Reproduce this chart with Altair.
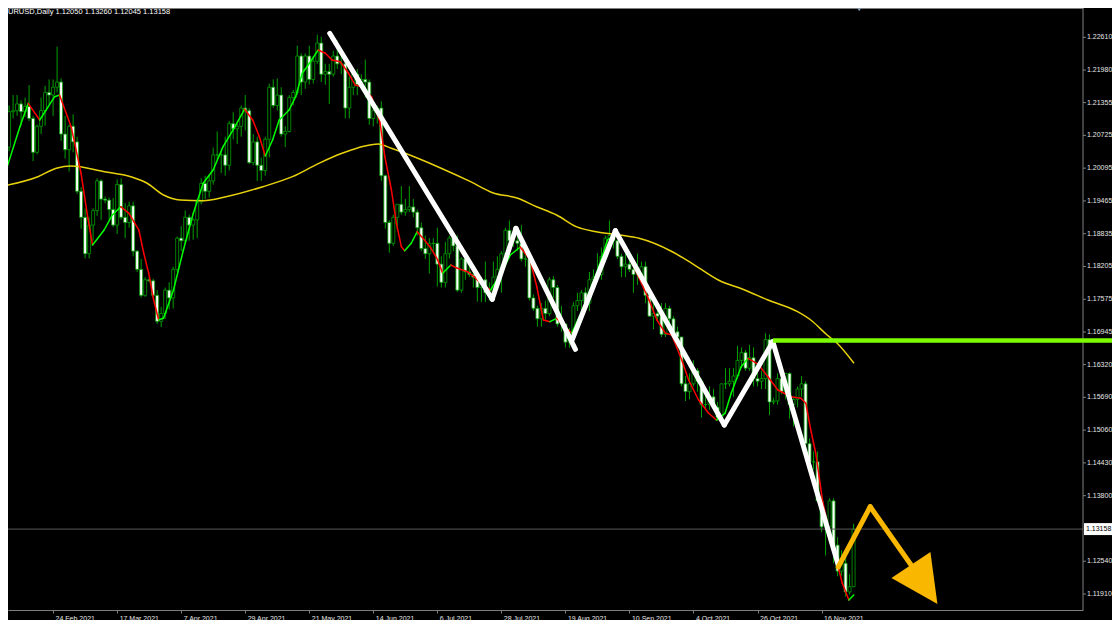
import altair as alt
import pandas as pd
import numpy as np

# ---------------- candles (bar index 0..212), EURUSD daily ----------------
opens = [1.2045,1.2050,1.2118,1.2120,1.2133,1.2118,1.2128,1.2105,1.2040,1.2090,
         1.2120,1.2155,1.2150,1.2165,1.2175,1.2075,1.2045,1.2090,1.2060,1.1965,
         1.1915,1.1845,1.1900,1.1928,1.1985,1.1950,1.1948,1.1930,1.1900,1.1978,
         1.1915,1.1905,1.1937,1.1850,1.1815,1.1765,1.1795,1.1793,1.1765,1.1715,
         1.1730,1.1775,1.1760,1.1815,1.1875,1.1870,1.1915,1.1900,1.1910,1.1945,
         1.1980,1.1965,1.1985,1.2035,1.2035,1.2035,1.2015,1.2095,1.2085,1.2090,
         1.2125,1.2120,1.2020,1.2060,1.2015,1.2005,1.2065,1.2165,1.2130,1.2150,
         1.2075,1.2080,1.2145,1.2155,1.2225,1.2175,1.2225,1.2180,1.2215,1.2250,
         1.2190,1.2195,1.2190,1.2225,1.2210,1.2210,1.2125,1.2165,1.2190,1.2170,
         1.2180,1.2175,1.2105,1.2120,1.2125,1.1995,1.1905,1.1865,1.1915,1.1940,
         1.1925,1.1930,1.1935,1.1925,1.1895,1.1855,1.1845,1.1865,1.1865,1.1825,
         1.1790,1.1845,1.1875,1.1860,1.1775,1.1835,1.1810,1.1805,1.1800,1.1780,
         1.1795,1.1770,1.1770,1.1800,1.1815,1.1845,1.1890,1.1870,1.1870,1.1865,
         1.1835,1.1835,1.1760,1.1740,1.1720,1.1740,1.1730,1.1795,1.1780,1.1710,
         1.1710,1.1675,1.1695,1.1745,1.1755,1.1770,1.1750,1.1795,1.1800,1.1805,
         1.1840,1.1875,1.1880,1.1870,1.1840,1.1820,1.1825,1.1815,1.1805,1.1805,
         1.1820,1.1765,1.1725,1.1730,1.1725,1.1690,1.1740,1.1720,1.1695,1.1685,
         1.1595,1.1580,1.1595,1.1620,1.1600,1.1555,1.1555,1.1570,1.1550,1.1530,
         1.1595,1.1595,1.1600,1.1610,1.1640,1.1655,1.1625,1.1645,1.1605,1.1600,
         1.1605,1.1680,1.1560,1.1562,1.1605,1.1580,1.1615,1.1555,1.1565,1.1585,
         1.1595,1.1480,1.1445,1.1445,1.1370,1.1320,1.1320,1.1370,1.1285,1.1235,
         1.1250,1.1195,1.12050]
highs = [1.2061,1.2130,1.2150,1.2150,1.2140,1.2145,1.2169,1.2110,1.2093,1.2145,
         1.2168,1.2180,1.2180,1.2243,1.2182,1.2110,1.2093,1.2113,1.2070,1.1973,
         1.1932,1.1915,1.1932,1.1990,1.1988,1.1955,1.1953,1.1952,1.1988,1.1990,
         1.1942,1.1945,1.1945,1.1852,1.1835,1.1800,1.1800,1.1797,1.1775,1.1743,
         1.1780,1.1790,1.1820,1.1878,1.1898,1.1928,1.1920,1.1913,1.1950,1.1990,
         1.1995,1.1995,1.2049,1.2080,1.2048,1.2070,1.2100,1.2117,1.2095,1.2130,
         1.2150,1.2125,1.2075,1.2070,1.2030,1.2070,1.2172,1.2180,1.2182,1.2165,
         1.2090,1.2150,1.2160,1.2245,1.2230,1.2230,1.2245,1.2225,1.2266,1.2262,
         1.2210,1.2210,1.2235,1.2255,1.2228,1.2215,1.2185,1.2195,1.2200,1.2190,
         1.2218,1.2180,1.2130,1.2130,1.2138,1.1997,1.1910,1.1920,1.1940,1.1975,
         1.1950,1.1975,1.1950,1.1930,1.1905,1.1880,1.1875,1.1875,1.1895,1.1840,
         1.1868,1.1880,1.1880,1.1880,1.1838,1.1850,1.1825,1.1820,1.1805,1.1800,
         1.1830,1.1790,1.1830,1.1840,1.1850,1.1895,1.1909,1.1895,1.1880,1.1900,
         1.1850,1.1848,1.1767,1.1745,1.1750,1.1755,1.1800,1.1802,1.1785,1.1745,
         1.1710,1.1702,1.1752,1.1770,1.1775,1.1780,1.1810,1.1815,1.1846,1.1857,
         1.1880,1.1909,1.1885,1.1872,1.1845,1.1845,1.1845,1.1820,1.1845,1.1830,
         1.1830,1.1775,1.1750,1.1750,1.1750,1.1750,1.1745,1.1725,1.1705,1.1685,
         1.1610,1.1615,1.1640,1.1625,1.1605,1.1575,1.1590,1.1585,1.1560,1.1595,
         1.1625,1.1625,1.1625,1.1668,1.1665,1.1660,1.1670,1.1665,1.1625,1.1620,
         1.1692,1.1690,1.1568,1.1615,1.1615,1.1615,1.1617,1.1570,1.1590,1.1610,
         1.1600,1.1490,1.1465,1.1465,1.1385,1.1330,1.1375,1.1375,1.1300,1.1275,
         1.1265,1.1229,1.13260]
lows = [1.2012,1.2042,1.2105,1.2110,1.2091,1.2108,1.2100,1.2023,1.2036,1.2075,
        1.2091,1.2132,1.2110,1.2155,1.2062,1.2028,1.2003,1.2040,1.1960,1.1893,
        1.1836,1.1836,1.1870,1.1918,1.1910,1.1942,1.1910,1.1896,1.1883,1.1910,
        1.1875,1.1895,1.1840,1.1810,1.1761,1.1762,1.1790,1.1760,1.1710,1.1704,
        1.1720,1.1738,1.1740,1.1810,1.1850,1.1865,1.1870,1.1872,1.1875,1.1940,
        1.1950,1.1953,1.1978,1.2025,1.2000,1.1995,1.2005,1.2065,1.2056,1.2070,
        1.2082,1.2018,1.2015,1.1985,1.1985,1.1995,1.2030,1.2125,1.2120,1.2070,
        1.2050,1.2078,1.2130,1.2150,1.2150,1.2162,1.2170,1.2172,1.2210,1.2175,
        1.2170,1.2133,1.2185,1.2200,1.2190,1.2105,1.2105,1.2150,1.2150,1.2165,
        1.2145,1.2093,1.2090,1.2095,1.1985,1.1893,1.1847,1.1860,1.1890,1.1920,
        1.1918,1.1925,1.1915,1.1880,1.1850,1.1835,1.1807,1.1850,1.1782,1.1780,
        1.1780,1.1836,1.1850,1.1772,1.1770,1.1795,1.1800,1.1780,1.1753,1.1752,
        1.1752,1.1755,1.1760,1.1780,1.1770,1.1840,1.1865,1.1858,1.1850,1.1830,
        1.1820,1.1755,1.1735,1.1705,1.1705,1.1718,1.1725,1.1760,1.1705,1.1695,
        1.1665,1.1664,1.1688,1.1735,1.1720,1.1735,1.1735,1.1785,1.1795,1.1795,
        1.1837,1.1855,1.1855,1.1835,1.1800,1.1800,1.1810,1.1770,1.1785,1.1785,
        1.1750,1.1725,1.1700,1.1715,1.1685,1.1685,1.1700,1.1680,1.1665,1.1590,
        1.1562,1.1565,1.1590,1.1580,1.1530,1.1545,1.1545,1.1545,1.1524,1.1525,
        1.1585,1.1590,1.1570,1.1605,1.1625,1.1620,1.1620,1.1590,1.1590,1.1585,
        1.1585,1.1535,1.1555,1.1555,1.1575,1.1565,1.1528,1.1513,1.1550,1.1570,
        1.1465,1.1432,1.1430,1.1370,1.1310,1.1265,1.1300,1.1250,1.1225,1.1226,
        1.1186,1.1190,1.12045]
closes = [1.2050,1.2118,1.2120,1.2133,1.2118,1.2128,1.2105,1.2040,1.2090,1.2120,
          1.2155,1.2150,1.2165,1.2175,1.2075,1.2045,1.2090,1.2060,1.1965,1.1915,
          1.1845,1.1900,1.1928,1.1985,1.1950,1.1948,1.1930,1.1900,1.1978,1.1915,
          1.1905,1.1937,1.1850,1.1815,1.1765,1.1795,1.1793,1.1765,1.1715,1.1730,
          1.1775,1.1760,1.1815,1.1875,1.1870,1.1915,1.1900,1.1910,1.1945,1.1980,
          1.1965,1.1985,1.2035,1.2035,1.2035,1.2015,1.2095,1.2085,1.2090,1.2125,
          1.2120,1.2020,1.2060,1.2015,1.2005,1.2065,1.2165,1.2130,1.2150,1.2075,
          1.2080,1.2145,1.2155,1.2225,1.2175,1.2225,1.2180,1.2215,1.2250,1.2190,
          1.2195,1.2190,1.2225,1.2210,1.2210,1.2125,1.2165,1.2190,1.2170,1.2180,
          1.2175,1.2105,1.2120,1.2125,1.1995,1.1905,1.1865,1.1915,1.1940,1.1925,
          1.1930,1.1935,1.1925,1.1895,1.1855,1.1845,1.1865,1.1865,1.1825,1.1790,
          1.1845,1.1875,1.1860,1.1775,1.1835,1.1810,1.1805,1.1800,1.1780,1.1795,
          1.1770,1.1770,1.1800,1.1815,1.1845,1.1890,1.1870,1.1870,1.1865,1.1835,
          1.1835,1.1760,1.1740,1.1720,1.1740,1.1730,1.1795,1.1780,1.1710,1.1710,
          1.1675,1.1695,1.1745,1.1755,1.1770,1.1750,1.1795,1.1800,1.1805,1.1840,
          1.1875,1.1880,1.1870,1.1840,1.1820,1.1825,1.1815,1.1805,1.1805,1.1820,
          1.1765,1.1725,1.1730,1.1725,1.1690,1.1740,1.1720,1.1695,1.1685,1.1595,
          1.1580,1.1595,1.1620,1.1600,1.1555,1.1555,1.1570,1.1550,1.1530,1.1595,
          1.1595,1.1600,1.1610,1.1640,1.1655,1.1625,1.1645,1.1605,1.1600,1.1605,
          1.1680,1.1560,1.1562,1.1605,1.1580,1.1615,1.1555,1.1565,1.1585,1.1595,
          1.1480,1.1445,1.1445,1.1370,1.1320,1.1320,1.1370,1.1285,1.1235,1.1250,
          1.1195,1.1205,1.13158]

# ---------------- indicators ----------------
slow_ma_bar = [0, 8.2, 12.8, 16.5, 24.8, 31.4, 35.4, 39.6, 43.7, 49.5, 55.2, 64.4, 71.8,
               78.4, 84.2, 89.9, 93.2, 96.5, 99.8, 108.1, 116.3, 122.0, 127.9, 132.8,
               137.8, 142.7, 147.7, 153.5, 158.4, 166.7, 171.6, 178.2, 184.8, 190.6,
               198.0, 201.3, 205.4, 207.9, 212.1]
slow_ma_val = [1.19758, 1.19931, 1.20092, 1.20136, 1.20027, 1.19931, 1.19810, 1.19579,
               1.19483, 1.19470, 1.19546, 1.19739, 1.19931, 1.20188, 1.20381, 1.20521,
               1.20559, 1.20477, 1.20386, 1.20123, 1.19835, 1.19617, 1.19521, 1.19354,
               1.19195, 1.18970, 1.18874, 1.18810, 1.18747, 1.18489, 1.18266, 1.17945,
               1.17753, 1.17561, 1.17336, 1.17176, 1.16888, 1.16729, 1.16344]

fast_ma_bar = [0, 3.71, 5.77, 8.66, 12.38, 13.61, 16.51, 18.99, 20.62, 21.86,
               24.75, 26.81, 28.89, 30.94, 32.18, 33.42, 34.65, 35.89, 37.13, 38.37,
               39.60, 42.08, 44.55, 47.03, 49.50, 51.98, 54.46, 56.93, 59.83, 61.88,
               63.54, 65.02, 66.83, 68.49, 70.96, 72.60, 74.26, 76.31, 78.22, 80.02,
               81.68, 83.74, 85.82, 87.45, 89.11, 91.58, 93.64, 94.88, 96.53, 97.77,
               99.01, 99.83, 101.49, 102.97, 104.78, 106.44, 108.09, 109.33, 111.39, 113.04,
               115.52, 117.15, 119.31, 121.29, 123.76, 126.24, 128.71, 131.19, 132.85, 134.48,
               136.14, 137.80, 139.36, 141.58, 144.80, 148.51, 150.50, 152.97, 156.68, 160.89,
               162.87, 165.02, 166.58, 169.06, 170.79, 173.27, 175.74, 177.72, 179.88, 181.44,
               183.91, 185.64, 188.12, 190.59, 193.07, 196.36, 198.84, 200.07, 201.31, 202.55,
               203.39, 204.21, 205.45, 207.92, 209.16, 210.82, 212.05]
fast_ma_val = [1.19996, 1.20892, 1.21341, 1.21020, 1.21468, 1.21501, 1.20892, 1.19996, 1.19162, 1.18618,
               1.18906, 1.19195, 1.19354, 1.19227, 1.19066, 1.18906, 1.18459, 1.18074, 1.17561, 1.17177,
               1.17215, 1.17753, 1.18522, 1.19227, 1.19804, 1.20060, 1.20507, 1.20828, 1.21226, 1.21020,
               1.20700, 1.20329, 1.20636, 1.21020, 1.21213, 1.21468, 1.21918, 1.22141, 1.22366, 1.22303,
               1.22174, 1.22141, 1.21918, 1.21693, 1.21661, 1.21468, 1.20988, 1.20315, 1.19675, 1.19035,
               1.18585, 1.18508, 1.18651, 1.18874, 1.18714, 1.18555, 1.18330, 1.18074, 1.18234, 1.18170,
               1.18105, 1.18009, 1.17849, 1.17753, 1.18041, 1.18426, 1.18580, 1.18330, 1.17817, 1.17177,
               1.17144, 1.17209, 1.17080, 1.16927, 1.17465, 1.18234, 1.18714, 1.18849, 1.18272, 1.17561,
               1.17177, 1.16921, 1.16888, 1.16408, 1.16023, 1.15639, 1.15389, 1.15255, 1.15383, 1.15773,
               1.16279, 1.16440, 1.16330, 1.16087, 1.15831, 1.15702, 1.15672, 1.15576, 1.15062, 1.14615,
               1.14165, 1.13717, 1.13275, 1.12500, 1.12122, 1.11795, 1.11891]

# ---------------- drawn objects ----------------
zig_bar1 = [81.11, 121.71, 127.65, 141.66, 152.48, 179.70, 191.83]
zig_val1 = [1.22687, 1.17574, 1.18939, 1.16792, 1.18893, 1.15158, 1.16759]
zig_bar2 = [121.71, 127.65, 142.50, 152.48, 179.70, 191.83, 208.17]
zig_val2 = [1.17574, 1.18939, 1.16613, 1.18893, 1.15158, 1.16759, 1.12468]

proj_bar1 = [208.17, 216.16]
proj_val1 = [1.12429, 1.13588]
proj_bar2 = [216.16, 226.90]
proj_val2 = [1.13588, 1.12410]
arrow_bar = [227.2]
arrow_val = [1.12218]

level_bar = [191.83]
level_bar_end = [277.2]
level_val = [1.16783]

current_price = 1.13158
header = "URUSD,Daily  1.12050 1.13260 1.12045 1.13158"

price_ticks = [1.22610, 1.21980, 1.21355, 1.20725, 1.20095, 1.19465, 1.18835, 1.18205,
               1.17575, 1.16945, 1.16320, 1.15690, 1.15060, 1.14430, 1.13800, 1.12540, 1.11910]
date_tick_bars = [-4, 12, 28, 44, 60, 76, 92, 108, 124, 140, 156, 172, 188, 204]
date_tick_labels = ["2 Feb 2021", "24 Feb 2021", "17 Mar 2021", "7 Apr 2021", "29 Apr 2021",
                    "21 May 2021", "14 Jun 2021", "6 Jul 2021", "28 Jul 2021", "19 Aug 2021",
                    "10 Sep 2021", "4 Oct 2021", "26 Oct 2021", "16 Nov 2021"]

# ---------------- frames ----------------
candles = pd.DataFrame({"bar": list(range(len(closes))), "open": opens, "high": highs,
                        "low": lows, "close": closes})
candles["kind"] = np.where(candles["close"] >= candles["open"], "bull", "bear")

slow = pd.DataFrame({"bar": slow_ma_bar, "val": slow_ma_val})
fast = pd.DataFrame({"bar": fast_ma_bar[:-1], "bar2": fast_ma_bar[1:],
                     "val": fast_ma_val[:-1], "val2": fast_ma_val[1:]})
fast["trend"] = np.where(fast["val2"] < fast["val"], "down", "up")
zig = pd.DataFrame({"bar": zig_bar1, "val": zig_val1, "bar2": zig_bar2, "val2": zig_val2})
proj = pd.DataFrame({"bar": proj_bar1, "val": proj_val1, "bar2": proj_bar2, "val2": proj_val2})
arrow = pd.DataFrame({"bar": arrow_bar, "val": arrow_val})
level = pd.DataFrame({"bar": level_bar, "bar2": level_bar_end, "val": level_val})
cur = pd.DataFrame({"val": [current_price], "txt": [f"{current_price:.5f}"],
                    "lo": [current_price - 0.00115], "hi": [current_price + 0.00115]})
ticks_df = pd.DataFrame({"val": price_ticks, "txt": [f"{v:.5f}" for v in price_ticks]})
head = pd.DataFrame({"t": [header]})
shift_marker = pd.DataFrame({"bar": [213.4]})
frame_df = pd.DataFrame({"k": [0]})

PLOT_W, PLOT_H = 1075, 602
XDOM = [1.98, 268.07]
YDOM = [1.116027, 1.231731]
xs = alt.Scale(domain=XDOM, nice=False, zero=False)
ys = alt.Scale(domain=YDOM, nice=False, zero=False)
GRAY = "#808080"
FONT = "Liberation Sans"
LABEL = "#e6e6e6"

label_map = "{" + ",".join(f"'{b}':'{t}'" for b, t in zip(date_tick_bars, date_tick_labels)) + "}"

x_axis = alt.Axis(orient="bottom", values=date_tick_bars, labelExpr=label_map + "[datum.value]",
                  labelAlign="left", labelBaseline="top", labelOffset=2, labelPadding=1,
                  labelColor=LABEL, labelFont=FONT, labelFontSize=7, tickSize=3,
                  tickColor=GRAY, domainColor=GRAY, grid=False, title=None,
                  labelOverlap=False, labelFlush=False)
top_axis = alt.Axis(orient="top", labels=False, ticks=False, domainColor=GRAY, grid=False, title=None)

WICK = "#00a000"

wicks = alt.Chart(candles).mark_rule(color=WICK, strokeWidth=1).encode(
    x=alt.X("bar:Q", scale=xs, axis=x_axis),
    y=alt.Y("low:Q", scale=ys, axis=None), y2="high:Q")

bodies = alt.Chart(candles).mark_bar(size=3, stroke=WICK, strokeWidth=0.8).encode(
    x=alt.X("bar:Q", scale=xs, axis=None),
    y=alt.Y("open:Q", scale=ys, axis=None), y2="close:Q",
    fill=alt.Fill("kind:N", scale=alt.Scale(domain=["bull", "bear"], range=["#000000", "#ffffff"]),
                  legend=None))

price_line = alt.Chart(cur).mark_rule(color="#5a5a5a", strokeWidth=1).encode(
    y=alt.Y("val:Q", scale=ys, axis=None))

slow_layer = alt.Chart(slow).mark_line(color="#e8d20c", strokeWidth=1.5, interpolate="monotone").encode(
    x=alt.X("bar:Q", scale=xs, axis=top_axis), y=alt.Y("val:Q", scale=ys, axis=None))

fast_layer = alt.Chart(fast).mark_rule(strokeWidth=1.5, strokeCap="round").encode(
    x=alt.X("bar:Q", scale=xs, axis=None), x2="bar2:Q",
    y=alt.Y("val:Q", scale=ys, axis=None), y2="val2:Q",
    color=alt.Color("trend:N", scale=alt.Scale(domain=["up", "down"], range=["#00ff00", "#ff0000"]),
                    legend=None))

zig_layer = alt.Chart(zig).mark_rule(color="white", strokeWidth=5, strokeCap="round").encode(
    x=alt.X("bar:Q", scale=xs, axis=None), x2="bar2:Q",
    y=alt.Y("val:Q", scale=ys, axis=None), y2="val2:Q")

level_layer = alt.Chart(level).mark_rule(color="#7cfc00", strokeWidth=4.5).encode(
    x=alt.X("bar:Q", scale=xs, axis=None), x2="bar2:Q",
    y=alt.Y("val:Q", scale=ys, axis=None))

proj_layer = alt.Chart(proj).mark_rule(color="#f9b700", strokeWidth=5, strokeCap="round").encode(
    x=alt.X("bar:Q", scale=xs, axis=None), x2="bar2:Q",
    y=alt.Y("val:Q", scale=ys, axis=None), y2="val2:Q")

arrow_layer = alt.Chart(arrow).mark_point(
    shape="M-0.885,0L0.615,-1L0.885,1Z", size=2704, filled=True, fill="#f9b700",
    opacity=1, strokeWidth=0).encode(
    x=alt.X("bar:Q", scale=xs, axis=None), y=alt.Y("val:Q", scale=ys, axis=None))

# right-hand price scale (drawn as marks)
right_border = alt.Chart(frame_df).mark_rule(color=GRAY, strokeWidth=1).encode(
    x=alt.value(PLOT_W), y=alt.value(0), y2=alt.value(PLOT_H))
tick_marks = alt.Chart(ticks_df).mark_rule(color=GRAY, strokeWidth=1).encode(
    x=alt.value(PLOT_W), x2=alt.value(PLOT_W + 3), y=alt.Y("val:Q", scale=ys, axis=None))
tick_labels = alt.Chart(ticks_df).mark_text(color=LABEL, font=FONT, fontSize=7, align="left",
                                            baseline="middle").encode(
    x=alt.value(PLOT_W + 4), y=alt.Y("val:Q", scale=ys, axis=None), text="txt:N")

box_layer = alt.Chart(cur).mark_rect(fill="white").encode(
    x=alt.value(PLOT_W + 1), x2=alt.value(PLOT_W + 29),
    y=alt.Y("hi:Q", scale=ys, axis=None), y2="lo:Q")
box_text = alt.Chart(cur).mark_text(color="black", font=FONT, fontSize=7, align="left",
                                    baseline="middle").encode(
    x=alt.value(PLOT_W + 3), y=alt.Y("val:Q", scale=ys, axis=None), text="txt:N")

head_layer = alt.Chart(head).mark_text(color="white", font=FONT, fontSize=7.5, align="left",
                                       baseline="middle").encode(
    x=alt.value(0), y=alt.value(4), text="t:N")

marker_layer = alt.Chart(shift_marker).mark_point(shape="triangle-down", size=30, filled=True,
                                                  color="#8a9bb0", opacity=1).encode(
    x=alt.X("bar:Q", scale=xs, axis=None), y=alt.value(1))

chart = alt.layer(
    wicks, bodies, price_line, slow_layer, fast_layer, zig_layer,
    right_border, tick_marks, tick_labels, level_layer,
    proj_layer, arrow_layer, box_layer, box_text, head_layer, marker_layer
).properties(
    width=PLOT_W, height=PLOT_H, background="black",
    padding={"left": 0, "top": 0, "right": 29, "bottom": 10},
    autosize=alt.AutoSizeParams(type="none"),
).configure_view(strokeWidth=0)

chart.save("out.html", embed_options={"renderer": "svg", "actions": False})
